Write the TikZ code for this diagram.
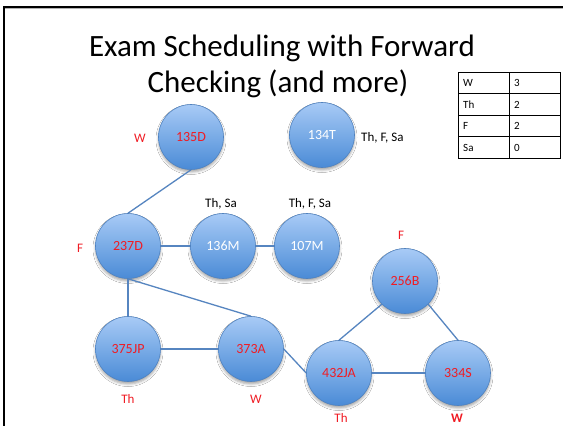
\documentclass[tikz,border=0pt]{standalone}
\usepackage{fontspec}
\setmainfont{Carlito}
\usetikzlibrary{shadows.blur}
\definecolor{edgeblue}{HTML}{5685C0}
\definecolor{topblue}{HTML}{A8CBF6}
\definecolor{botblue}{HTML}{4A8AD6}
\definecolor{rimblue}{HTML}{4F82C0}
\definecolor{lblred}{HTML}{F01C24}
\begin{document}
\begin{tikzpicture}[x=1pt,y=-1pt,
  exam/.style={circle, minimum size=65pt, inner sep=0pt, draw=rimblue, line width=0.6pt,
    top color=topblue, bottom color=botblue, font=\fontsize{14}{16}\selectfont,
    blur shadow={shadow xshift=0pt, shadow yshift=-2.5pt, shadow blur radius=2.5pt, shadow opacity=35}},
  dom/.style={inner sep=0pt, font=\fontsize{13}{15}\selectfont},
  tcell/.style={inner sep=0pt, anchor=west, font=\fontsize{11}{13}\selectfont},
  link/.style={draw=edgeblue, line width=1.3pt},
  tbl/.style={draw=black, line width=0.7pt}
]
\useasboundingbox (0,0) rectangle (563,426);
\fill[white] (0,0) rectangle (563,426);
% frame
\draw[line width=2pt] (4,426) -- (4,7) -- (563,7);
\draw[black!30, line width=0.6pt] (5,8.6) -- (563,8.6);
% title
\node[anchor=base, inner sep=0pt, font=\fontsize{31}{37}\selectfont] (title1) at (282,56) {Exam Scheduling with Forward};
\node[anchor=base, inner sep=0pt, font=\fontsize{31}{37}\selectfont] (title2) at (278,92) {Checking (and more)};
% table
\draw[tbl] (458,72) rectangle (560,158);
\draw[tbl] (458,93.5) -- (560,93.5);
\draw[tbl] (458,115) -- (560,115);
\draw[tbl] (458,136.5) -- (560,136.5);
\draw[tbl] (509,72) -- (509,158);
\node[tcell] (tW) at (463,83) {W};
\node[tcell] (tWv) at (514,83) {3};
\node[tcell] (tTh) at (463,104.5) {Th};
\node[tcell] (tThv) at (514,104.5) {2};
\node[tcell] (tF) at (463,126) {F};
\node[tcell] (tFv) at (514,126) {2};
\node[tcell] (tSa) at (463,147.5) {Sa};
\node[tcell] (tSav) at (514,147.5) {0};
% exams
\node[exam, text=lblred] (n135D) at (191,137) {135D};
\node[exam, text=white] (n134T) at (322,135) {134T};
\node[exam, text=lblred] (n237D) at (128,246) {237D};
\node[exam, text=white] (n136M) at (223,246) {136M};
\node[exam, text=white] (n107M) at (307,246) {107M};
\node[exam, text=lblred] (n375JP) at (128,349) {375JP};
\node[exam, text=lblred] (n373A) at (251,349) {373A};
\node[exam, text=lblred] (n256B) at (405,281) {256B};
\node[exam, text=lblred] (n432JA) at (339,373) {432JA};
\node[exam, text=lblred] (n334S) at (458,373) {334S};
% links
\draw[link] (n135D.south) -- (n237D.north);
\draw[link] (n237D.east) -- (n136M.west);
\draw[link] (n136M.east) -- (n107M.west);
\draw[link] (n237D.south) -- (n375JP.north);
\draw[link] (n237D.south) -- (n373A.north);
\draw[link] (n375JP.east) -- (n373A.west);
\draw[link] (n373A.east) -- (n432JA.west);
\draw[link] (n256B.south west) -- (n432JA.north);
\draw[link] (n256B.south east) -- (n334S.north);
\draw[link] (n432JA.east) -- (n334S.west);
% domain labels
\node[dom, text=lblred] (lW1) at (140,138) {W};
\node[dom, text=lblred] (lF1) at (80,248) {F};
\node[dom] (lThSa) at (221,204) {Th, Sa};
\node[dom] (lThFSa1) at (310,204) {Th, F, Sa};
\node[dom, anchor=west] (lThFSa2) at (361,138) {Th, F, Sa};
\node[dom, text=lblred] (lF2) at (401,235) {F};
\node[dom, text=lblred] (lTh1) at (128,399) {Th};
\node[dom, text=lblred] (lW2) at (256,399) {W};
\node[dom, text=lblred] (lTh2) at (341,418) {Th};
\node[dom, text=lblred, font=\fontsize{13}{15}\selectfont\bfseries] (lW3) at (457,418) {W};
\end{tikzpicture}
\end{document}
